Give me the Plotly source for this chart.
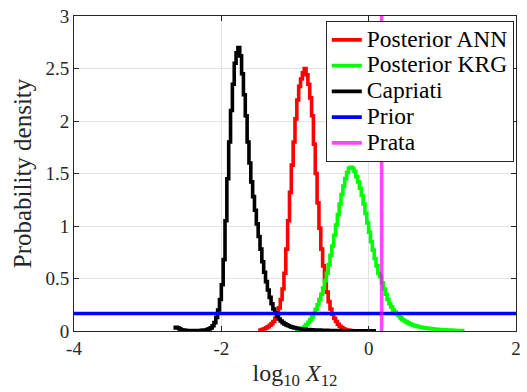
import numpy as np
import plotly.graph_objects as go

# ---------------- data (stair histograms, bin width 0.025) ----------------
bin_width = 0.025

ann_start = -1.50
ann_density = [0.005, 0.010, 0.015, 0.022, 0.030, 0.040, 0.055, 0.070, 0.090, 0.120,
               0.160, 0.220, 0.300, 0.400, 0.550, 0.780, 1.050, 1.320, 1.580, 1.800,
               2.020, 2.200, 2.330, 2.400, 2.460, 2.500, 2.440, 2.350, 2.220, 2.050,
               1.780, 1.500, 1.220, 0.980, 0.780, 0.620, 0.480, 0.370, 0.280, 0.210,
               0.160, 0.120, 0.090, 0.065, 0.045, 0.032, 0.022, 0.015, 0.010, 0.007,
               0.005, 0.003]

krg_start = -1.00
krg_density = [0.003, 0.006, 0.012, 0.020, 0.030, 0.045, 0.062, 0.083, 0.108, 0.135,
               0.168, 0.205, 0.250, 0.300, 0.350, 0.410, 0.480, 0.550, 0.630, 0.720,
               0.810, 0.910, 1.010, 1.110, 1.210, 1.300, 1.380, 1.450, 1.510, 1.550,
               1.560, 1.550, 1.520, 1.470, 1.420, 1.360, 1.290, 1.210, 1.120, 1.030,
               0.940, 0.850, 0.770, 0.690, 0.620, 0.550, 0.520, 0.460, 0.400, 0.350,
               0.300, 0.260, 0.230, 0.200, 0.180, 0.165, 0.145, 0.125, 0.110, 0.098,
               0.087, 0.077, 0.068, 0.061, 0.055, 0.049, 0.044, 0.040, 0.036, 0.033,
               0.030, 0.027, 0.025, 0.023, 0.021, 0.019, 0.017, 0.016, 0.014, 0.013,
               0.012, 0.011, 0.010, 0.009, 0.008, 0.007, 0.006, 0.005, 0.005, 0.004,
               0.004, 0.003]

cap_start = -2.65
cap_density = [0.030, 0.035, 0.030, 0.020, 0.012, 0.008, 0.006, 0.005, 0.004, 0.004,
               0.004, 0.004, 0.004, 0.005, 0.005, 0.006, 0.008, 0.010, 0.014, 0.020,
               0.030, 0.050, 0.080, 0.130, 0.200, 0.300, 0.440, 0.680, 1.050, 1.450,
               1.800, 2.100, 2.350, 2.550, 2.650, 2.700, 2.620, 2.450, 2.250, 2.050,
               1.800, 1.600, 1.420, 1.280, 1.150, 1.020, 0.900, 0.780, 0.660, 0.560,
               0.470, 0.390, 0.320, 0.260, 0.210, 0.170, 0.140, 0.115, 0.095, 0.080,
               0.068, 0.058, 0.050, 0.043, 0.037, 0.032, 0.028, 0.025, 0.022, 0.020,
               0.018, 0.016, 0.014, 0.013, 0.012, 0.011, 0.010, 0.009, 0.008, 0.008,
               0.007, 0.007, 0.006, 0.006, 0.005, 0.005, 0.005, 0.004, 0.004, 0.004,
               0.004, 0.003, 0.003, 0.003, 0.003, 0.003, 0.002, 0.002, 0.002, 0.002,
               0.002, 0.002, 0.002, 0.001, 0.001, 0.001, 0.001, 0.001, 0.001, 0.001]

prior_range = [-4, 2]
prior_density = 1.0 / 6.0
prata_value = 0.176

series_names = ["Posterior ANN", "Posterior KRG", "Capriati", "Prior", "Prata"]

x_range = [-4, 2]
y_range = [0, 3]
x_ticks = [-4, -2, 0, 2]
x_ticktext = ["-4", "-2", "0", "2"]
y_ticks = [0, 0.5, 1, 1.5, 2, 2.5, 3]
y_ticktext = ["0", "0.5", "1", "1.5", "2", "2.5", "3"]

FONT = "Liberation Serif, Times New Roman, DejaVu Serif, serif"


def stairs(start, vals):
    n = len(vals)
    edges = start + bin_width * np.arange(n + 1)
    y = list(vals) + [vals[-1]]
    return edges, y


def legend_name(s):
    return '<span style="font-size:23.5px">' + s + '</span>'


fig = go.Figure()

LW = 3.6
for name, start, vals, col in [
    (series_names[0], ann_start, ann_density, "#ff0000"),
    (series_names[1], krg_start, krg_density, "#00ff00"),
    (series_names[2], cap_start, cap_density, "#000000"),
]:
    ex, ey = stairs(start, vals)
    fig.add_trace(go.Scatter(x=ex, y=ey, mode="lines", name=legend_name(name),
                             line=dict(color=col, width=LW, shape="hv")))

fig.add_trace(go.Scatter(x=prior_range, y=[prior_density, prior_density],
                         mode="lines", name=legend_name(series_names[3]),
                         line=dict(color="#0000ff", width=LW)))
fig.add_trace(go.Scatter(x=[prata_value, prata_value], y=y_range,
                         mode="lines", name=legend_name(series_names[4]),
                         line=dict(color="rgba(255,0,255,0.72)", width=LW)))

axis_common = dict(
    showline=True, linecolor="#262626", linewidth=1, mirror="allticks",
    ticks="inside", ticklen=5, tickcolor="#262626",
    showgrid=True, gridcolor="#e3e3e3", gridwidth=1, zeroline=False,
    tickfont=dict(family=FONT, size=19, color="#262626"),
)

fig.update_xaxes(range=x_range, tickvals=x_ticks, ticktext=x_ticktext,
                 title=dict(text="log<sub>10</sub> <i>X</i><sub>12</sub>",
                            font=dict(family=FONT, size=24, color="#262626"),
                            standoff=6),
                 **axis_common)
fig.update_yaxes(range=y_range, tickvals=y_ticks, ticktext=y_ticktext,
                 title=dict(text="Probability density",
                            font=dict(family=FONT, size=25, color="#262626"),
                            standoff=6),
                 **axis_common)

fig.update_layout(
    width=527, height=392,
    margin=dict(l=74, r=6, t=16, b=61),
    paper_bgcolor="white", plot_bgcolor="white",
    font=dict(family=FONT, color="#262626"),
    legend=dict(x=0.995, xanchor="right", y=0.984, yanchor="top",
                bgcolor="white", bordercolor="#262626", borderwidth=1,
                font=dict(family=FONT, size=17.5, color="#000000"),
                tracegroupgap=0, itemwidth=30),
    showlegend=True,
)

fig.write_html("out.html")
